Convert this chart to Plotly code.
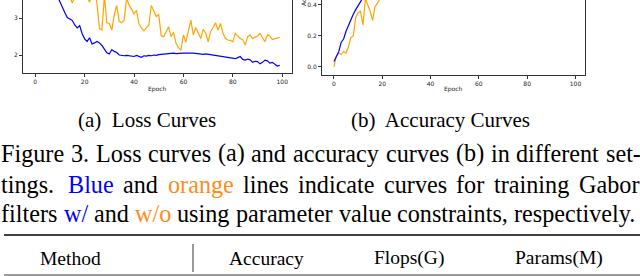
import plotly.graph_objects as go

W, H = 640, 276

epochs = list(range(100))

loss_blue = [6.2, 5.6, 5.15, 4.8, 4.5, 4.25, 4.05, 3.88, 3.75, 3.6,
             3.47, 3.3, 3.15, 3.02, 2.98, 2.94, 2.82, 2.74, 2.8, 2.58,
             2.44, 2.37, 2.47, 2.3, 2.33, 2.37, 2.33, 2.26, 2.16, 2.06,
             2.03, 2.15, 2.1, 2.07, 2.0, 1.98, 1.98, 1.99, 1.98, 1.99,
             1.96, 1.99, 1.97, 1.94, 1.98, 1.97, 1.99, 1.98, 2.0, 1.99,
             2.01, 2.02, 2.03, 2.04, 2.03, 2.04, 2.05, 2.04, 2.05, 2.06,
             2.05, 2.05, 2.06, 2.05, 2.05, 2.04, 2.02, 2.03, 2.02, 2.03,
             2.02, 2.01, 2.0, 2.0, 1.97, 1.96, 1.97, 1.94, 1.93, 1.94,
             1.92, 1.9, 1.93, 1.96, 1.88, 1.86, 1.89, 1.87, 1.8, 1.83,
             1.82, 1.76, 1.8, 1.86, 1.84, 1.78, 1.8, 1.76, 1.7, 1.72]

loss_orange = [6.8, 6.0, 5.5, 5.1, 4.9, 4.7, 4.5, 4.3, 4.2, 4.05,
               3.95, 3.85, 3.8, 3.7, 3.6, 3.42, 3.62, 3.75, 3.9, 3.7,
               3.8, 3.6, 3.44, 3.7, 3.8, 3.4, 2.72, 2.68, 3.6, 2.88,
               2.86, 2.68, 3.1, 3.35, 2.92, 2.88, 2.95, 3.55, 3.36, 3.25,
               3.12, 3.22, 2.85, 2.74, 2.66, 2.74, 2.82, 3.35, 3.2, 3.05,
               3.1, 2.52, 2.5, 2.62, 2.77, 2.5, 2.62, 2.32, 2.2, 2.13,
               2.55, 2.35, 2.62, 2.95, 2.55, 2.75, 2.6, 2.45, 2.7, 2.6,
               2.36, 2.64, 2.75, 2.88, 2.68, 2.86, 2.59, 2.45, 2.41, 2.4,
               2.36, 2.59, 2.52, 2.45, 2.42, 2.27, 2.5, 2.55, 2.45, 2.48,
               2.52, 2.59, 2.48, 2.36, 2.55, 2.52, 2.42, 2.44, 2.45, 2.48]

acc_blue = [0.035, 0.07, 0.1, 0.16, 0.18, 0.23, 0.27, 0.3, 0.34, 0.37,
            0.4, 0.43, 0.46, 0.49, 0.52, 0.54, 0.57, 0.59, 0.61, 0.63,
            0.65, 0.66, 0.68, 0.69, 0.7, 0.71, 0.72, 0.73, 0.74, 0.74,
            0.75, 0.76, 0.76, 0.77, 0.78, 0.78, 0.79, 0.79, 0.8, 0.8,
            0.81, 0.81, 0.81, 0.82, 0.82, 0.82, 0.83, 0.83, 0.83, 0.84,
            0.84, 0.84, 0.85, 0.85, 0.85, 0.85, 0.86, 0.86, 0.86, 0.86,
            0.87, 0.87, 0.87, 0.87, 0.87, 0.88, 0.88, 0.88, 0.88, 0.88,
            0.88, 0.89, 0.89, 0.89, 0.89, 0.89, 0.89, 0.9, 0.9, 0.9,
            0.9, 0.9, 0.9, 0.9, 0.91, 0.91, 0.91, 0.91, 0.91, 0.91,
            0.91, 0.91, 0.92, 0.92, 0.92, 0.92, 0.92, 0.92, 0.92, 0.92]

acc_orange = [0.0, 0.07, 0.09, 0.08, 0.1, 0.09, 0.13, 0.19, 0.2, 0.32,
              0.35, 0.36, 0.27, 0.44, 0.4, 0.36, 0.3, 0.39, 0.41, 0.45,
              0.48, 0.5, 0.49, 0.53, 0.55, 0.52, 0.57, 0.59, 0.56, 0.6,
              0.62, 0.6, 0.63, 0.65, 0.62, 0.66, 0.67, 0.64, 0.68, 0.69,
              0.67, 0.7, 0.71, 0.68, 0.72, 0.72, 0.7, 0.73, 0.74, 0.72,
              0.75, 0.74, 0.76, 0.75, 0.77, 0.74, 0.77, 0.78, 0.76, 0.78,
              0.79, 0.77, 0.79, 0.8, 0.78, 0.8, 0.8, 0.79, 0.81, 0.8,
              0.81, 0.82, 0.8, 0.82, 0.81, 0.83, 0.82, 0.81, 0.83, 0.82,
              0.83, 0.84, 0.82, 0.84, 0.83, 0.84, 0.85, 0.83, 0.85, 0.84,
              0.85, 0.84, 0.86, 0.85, 0.85, 0.86, 0.85, 0.86, 0.86, 0.86]

loss_yticks = [2, 3]
acc_yticks = [0.0, 0.2, 0.4]
xticks = [0, 20, 40, 60, 80, 100]

subcaptions = ["(a)&nbsp; Loss Curves", "(b)&nbsp; Accuracy Curves"]
caption_lines = [
    "Figure 3. Loss curves (a) and accuracy curves (b) in different set-",
    "tings.  Blue and orange lines indicate curves for training Gabor",
    "filters w/ and w/o using parameter value constraints, respectively.",
]
colored_words = {"Blue": "#0000ff", "w/": "#0000ff", "orange": "#ff8c1a", "w/o": "#ff8c1a"}
header = ["Method", "Accuracy", "Flops(G)", "Params(M)"]

BLUE = "#0000ff"
ORANGE = "#ffa500"
SERIF = "Liberation Serif"
SANS = "DejaVu Sans"

# Times / Liberation Serif advance widths (per 1000 em), used only to justify the caption lines
TW = {' ': 250, 'a': 444, 'b': 500, 'c': 444, 'd': 500, 'e': 444, 'f': 333, 'g': 500, 'h': 500,
      'i': 278, 'j': 278, 'k': 500, 'l': 278, 'm': 778, 'n': 500, 'o': 500, 'p': 500, 'q': 500,
      'r': 333, 's': 389, 't': 278, 'u': 500, 'v': 500, 'w': 722, 'x': 500, 'y': 500, 'z': 444,
      'B': 667, 'F': 556, 'G': 722, 'L': 611, '.': 250, ',': 250, '-': 333, '(': 333, ')': 333,
      '/': 278, '3': 500}


def tw(s, size):
    return sum(TW.get(c, 500) for c in s) * size / 1000.0


def px(x):
    return x / W


def py(y):
    return 1 - y / H


fig = go.Figure()
fig.add_trace(go.Scatter(x=epochs, y=loss_orange, mode="lines",
                         line=dict(color=ORANGE, width=1.2), xaxis="x", yaxis="y"))
fig.add_trace(go.Scatter(x=epochs, y=loss_blue, mode="lines",
                         line=dict(color=BLUE, width=1.2), xaxis="x", yaxis="y"))
fig.add_trace(go.Scatter(x=epochs, y=acc_orange, mode="lines",
                         line=dict(color=ORANGE, width=1.2), xaxis="x2", yaxis="y2"))
fig.add_trace(go.Scatter(x=epochs, y=acc_blue, mode="lines",
                         line=dict(color=BLUE, width=1.2), xaxis="x2", yaxis="y2"))

axis_common = dict(showgrid=False, zeroline=False, showline=True, linecolor="#333",
                   linewidth=1, ticks="outside", ticklen=3, tickwidth=1, tickcolor="#333",
                   tickfont=dict(family=SANS, size=6, color="#222"))

fig.update_layout(
    width=W, height=H, margin=dict(l=0, r=0, t=0, b=0),
    paper_bgcolor="white", plot_bgcolor="white", showlegend=False,
    xaxis=dict(domain=[px(23), px(292)], range=[-4.95, 103.95], tickvals=xticks,
               anchor="y", **axis_common),
    yaxis=dict(domain=[py(73), 1], range=[1.51, 3.5], tickvals=loss_yticks,
               anchor="x", mirror=True, **axis_common),
    xaxis2=dict(domain=[px(322), px(585)], range=[-4.95, 103.95], tickvals=xticks,
                anchor="y2", **axis_common),
    yaxis2=dict(domain=[py(75), 1], range=[-0.052, 0.432], tickvals=acc_yticks,
                tickformat=".1f", anchor="x2", mirror=True, **axis_common),
)

ann = []


def add_text(text, x, y, size, family, xanchor="center", yanchor="middle", **kw):
    ann.append(dict(text=text, x=px(x), y=py(y), xref="paper", yref="paper",
                    xanchor=xanchor, yanchor=yanchor, showarrow=False, borderpad=0,
                    font=dict(family=family, size=size, color=kw.pop("color", "black")), **kw))


for cx in (157.5, 453.5):
    add_text("Epoch", cx, 89, 6, SANS, color="#222")
add_text("Accuracy", 304, 7, 6, SANS, yanchor="bottom", textangle=-90, color="#222")

for t, cx in zip(subcaptions, (146.5, 440.5)):
    add_text(t, cx, 120, 21, SERIF)

CAP = 24.2
for line, yy, right in zip(caption_lines, (153, 184, 213), (640, 638, 636)):
    words = line.split()
    widths = [tw(w, CAP) for w in words]
    # the sentence space after "tings." is wider than the others
    weights = [1.5 if (i == 0 and "  " in line) else 1.0 for i in range(len(words) - 1)]
    gap = (right - sum(widths)) / sum(weights)
    x = 0.0
    for i, w in enumerate(words):
        add_text(w, x, yy, CAP, SERIF, xanchor="left", color=colored_words.get(w, "black"))
        if i < len(words) - 1:
            x += widths[i] + gap * weights[i]

for t, cx in zip(header, (70, 266, 409, 559)):
    add_text(t, cx, 258, 19.5, SERIF)

fig.update_layout(annotations=ann)

fig.add_shape(type="line", xref="paper", yref="paper", x0=px(4), x1=1, y0=py(235), y1=py(235),
              line=dict(color="black", width=1.5))
fig.add_shape(type="line", xref="paper", yref="paper", x0=px(4), x1=1, y0=py(275), y1=py(275),
              line=dict(color="black", width=0.8))
fig.add_shape(type="line", xref="paper", yref="paper", x0=px(193), x1=px(193), y0=py(244), y1=py(272),
              line=dict(color="black", width=0.8))

fig.write_html("out.html", config={"displayModeBar": False},
               post_script="document.body.style.margin='0';")
